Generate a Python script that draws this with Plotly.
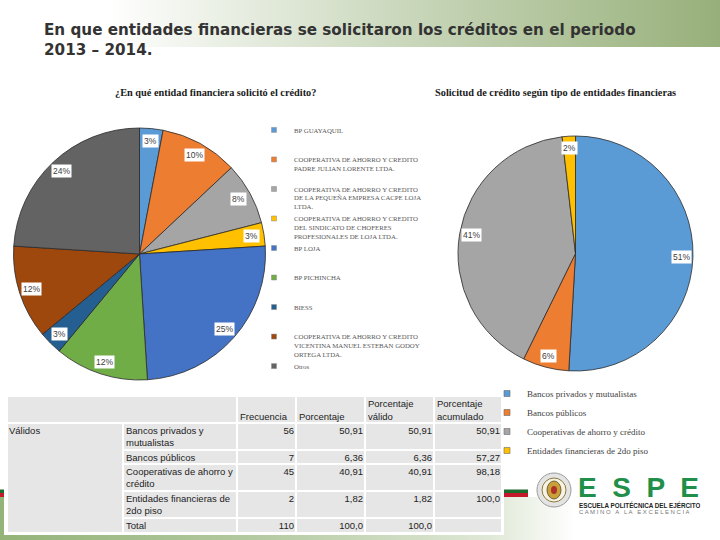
import base64
import math
import plotly.graph_objects as go

W, H = 720, 540

# ---------------- data ----------------
titulo = "En que entidades financieras se solicitaron los créditos en el periodo<br>2013 – 2014."

titulo_pie1 = "¿En qué entidad financiera solicitó el crédito?"
entidades = [
    "BP GUAYAQUIL",
    "COOPERATIVA DE AHORRO Y CREDITO<br>PADRE JULIAN LORENTE LTDA.",
    "COOPERATIVA DE AHORRO Y CREDITO<br>DE LA PEQUEÑA EMPRESA CACPE LOJA<br>LTDA.",
    "COOPERATIVA DE AHORRO Y CREDITO<br>DEL SINDICATO DE CHOFERES<br>PROFESIONALES DE LOJA LTDA.",
    "BP LOJA",
    "BP PICHINCHA",
    "BIESS",
    "COOPERATIVA DE AHORRO Y CREDITO<br>VICENTINA MANUEL ESTEBAN GODOY<br>ORTEGA LTDA.",
    "Otros",
]
porc_entidad = [3, 10, 8, 3, 25, 12, 3, 12, 24]
colores_entidad = ["#5b9bd5", "#ed7d31", "#a5a5a5", "#ffc000", "#4472c4",
                   "#70ad47", "#255e91", "#9e480e", "#636363"]

titulo_pie2 = "Solicitud de crédito según tipo de entidades financieras"
tipos = ["Bancos privados y mutualistas", "Bancos públicos",
         "Cooperativas de ahorro y crédito", "Entidades financieras de 2do piso"]
frecuencia = [56, 7, 45, 2]
colores_tipo = ["#5b9bd5", "#ed7d31", "#a5a5a5", "#ffc000"]

tabla_encabezado = ["Frecuencia", "Porcentaje", "Porcentaje<br>válido", "Porcentaje<br>acumulado"]
tabla_grupo = "Válidos"
tabla_filas = ["Bancos privados y<br>mutualistas", "Bancos públicos",
               "Cooperativas de ahorro y<br>crédito",
               "Entidades financieras de<br>2do piso", "Total"]
tabla_frecuencia = [56, 7, 45, 2, 110]
tabla_porcentaje = [50.91, 6.36, 40.91, 1.82, 100.0]
tabla_valido = [50.91, 6.36, 40.91, 1.82, 100.0]
tabla_acumulado = [50.91, 57.27, 98.18, 100.0, None]


def fmt_num(v):
    if v is None:
        return ""
    if isinstance(v, int):
        return str(v)
    s = f"{v:.1f}" if v >= 100 else f"{v:.2f}"
    return s.replace(".", ",")


# ---------------- layout geometry (px) ----------------
P1 = (139.5, 254.0, 126.0)
P2 = (575.5, 253.5, 117.5)
TAB_X0, TAB_X1, TAB_Y0, TAB_Y1 = 7, 502, 396, 533
col_edges = [0, 116, 230, 289, 358, 427, 495]
row_edges = [0, 27, 54, 68, 95, 122, 137]
GRAY = "#e6e6e6"
TFONT = dict(family="Liberation Sans", size=9.5, color="#222222")


def dom(cx, cy, r):
    return dict(x=[(cx - r) / W, (cx + r) / W], y=[1 - (cy + r) / H, 1 - (cy - r) / H])


fig = go.Figure()

fig.add_trace(go.Pie(
    values=porc_entidad, labels=[e.replace("<br>", " ") for e in entidades],
    marker=dict(colors=colores_entidad, line=dict(color="#2b2b2b", width=0.8)),
    sort=False, direction="clockwise", rotation=0, textinfo="none",
    showlegend=False, domain=dom(*P1), hoverinfo="label+percent"))

fig.add_trace(go.Pie(
    values=frecuencia, labels=tipos,
    marker=dict(colors=colores_tipo, line=dict(color="#2b2b2b", width=0.8)),
    sort=False, direction="clockwise", rotation=0, textinfo="none",
    showlegend=False, domain=dom(*P2), hoverinfo="label+percent"))

# legend entries (square markers)
for i, (n, c) in enumerate(zip(entidades, colores_entidad)):
    lines = n.count("<br>") + 1
    name = n + "<br>\u00a0" * (3 - lines)
    fig.add_trace(go.Scatter(
        x=[None], y=[None], mode="markers", name=name, legend="legend",
        legendgroup=f"e{i}", hoverinfo="skip",
        marker=dict(symbol="square", size=5, color=c, line=dict(color="#8a8a8a", width=0.5))))

for i, (n, c) in enumerate(zip(tipos, colores_tipo)):
    fig.add_trace(go.Scatter(
        x=[None], y=[None], mode="markers", name=n, legend="legend2",
        legendgroup=f"t{i}", hoverinfo="skip",
        marker=dict(symbol="square", size=6, color=c, line=dict(color="#6a6a6a", width=0.6))))

# ---------------- table (grid of cells on its own axes) ----------------
gscale = [[0, GRAY], [1, GRAY]]
hm = dict(colorscale=gscale, showscale=False, xgap=2, ygap=2, hoverinfo="skip",
          xaxis="x2", yaxis="y2")
# header row: first two columns merged
fig.add_trace(go.Heatmap(x=[col_edges[0]] + col_edges[2:], y=row_edges[:2],
                         z=[[0] * (len(col_edges) - 2)], **hm))
# "Válidos" merged column
fig.add_trace(go.Heatmap(x=col_edges[:2], y=[row_edges[1], row_edges[-1]], z=[[0]], **hm))
# body cells
fig.add_trace(go.Heatmap(x=col_edges[1:], y=row_edges[1:],
                         z=[[0] * (len(col_edges) - 2) for _ in tabla_filas], **hm))

tx = dict(mode="text", hoverinfo="skip", showlegend=False, xaxis="x2", yaxis="y2",
          textfont=TFONT, cliponaxis=False)
DY = 3.5
# header labels
fig.add_trace(go.Scatter(x=[e + 3 for e in col_edges[2:-1]],
                         y=[row_edges[1] - 1] * len(tabla_encabezado),
                         text=tabla_encabezado, textposition="top right", **tx))
# group label
fig.add_trace(go.Scatter(x=[col_edges[0] + 2], y=[row_edges[1] + DY], text=[tabla_grupo],
                         textposition="bottom right", **tx))
# row labels
fig.add_trace(go.Scatter(x=[col_edges[1] + 3] * len(tabla_filas), y=[r + DY for r in row_edges[1:-1]],
                         text=tabla_filas, textposition="bottom right", **tx))
# numeric columns
for k, col in enumerate([tabla_frecuencia, tabla_porcentaje, tabla_valido, tabla_acumulado]):
    fig.add_trace(go.Scatter(x=[col_edges[k + 3] - 2] * len(col), y=[r + DY for r in row_edges[1:-1]],
                             text=[fmt_num(v) for v in col], textposition="bottom left", **tx))

# ---------------- annotations ----------------
anns = []


def pie_labels(vals, cx, cy, r):
    tot = sum(vals)
    cum = 0
    for v in vals:
        mid = (cum + v / 2) / tot
        cum += v
        th = 2 * math.pi * mid
        x = cx + 0.9 * r * math.sin(th)
        y = cy - 0.9 * r * math.cos(th)
        anns.append(dict(x=x / W, y=1 - y / H, xref="paper", yref="paper",
                         xanchor="center", yanchor="middle",
                         text=f"{round(v / tot * 100)}%", showarrow=False,
                         bgcolor="white", borderpad=1,
                         font=dict(family="Liberation Sans", size=8.5, color="#404040")))


pie_labels(porc_entidad, *P1)
pie_labels(frecuencia, *P2)


def ann(x, y, text, font, xanchor="center", yanchor="middle", **kw):
    anns.append(dict(x=x / W, y=1 - y / H, xref="paper", yref="paper", xanchor=xanchor,
                     yanchor=yanchor, showarrow=False, text=text, font=font, **kw))


ann(42, 19, "<b>" + titulo.replace("<br>", "</b><br><b>") + "</b>",
    dict(family="DejaVu Sans", size=15.2, color="#333333"), xanchor="left", yanchor="top", align="left")
ann(215, 92, "<b>" + titulo_pie1 + "</b>", dict(family="Liberation Serif", size=10.3, color="#1a1a1a"))
ann(555.5, 92, "<b>" + titulo_pie2 + "</b>", dict(family="Liberation Serif", size=10.3, color="#1a1a1a"))

# logo texts
ann(576, 487, "<b>E  S  P  E</b>", dict(family="Liberation Sans", size=28, color="#1f8f4a"),
    xanchor="left", height=22)
ann(577, 504.5, "<b>ESCUELA POLITÉCNICA DEL EJÉRCITO</b>",
    dict(family="Liberation Sans", size=6.3, color="#222222"), xanchor="left", height=8)
ann(577, 511.5, "C A M I N O   A   L A   E X C E L E N C I A",
    dict(family="Liberation Sans", size=6, color="#777777"), xanchor="left", height=7)


# ---------------- background images (gradients) ----------------
def grad_svg(stops):
    st = "".join(f'<stop offset="{o}" stop-color="{c}"/>' for o, c in stops)
    svg = ('<svg xmlns="http://www.w3.org/2000/svg" width="720" height="100" preserveAspectRatio="none">'
           '<defs><linearGradient id="g" x1="0" y1="0" x2="1" y2="0">' + st +
           '</linearGradient></defs><rect width="720" height="100" fill="url(#g)"/></svg>')
    return "data:image/svg+xml;base64," + base64.b64encode(svg.encode()).decode()


images = [
    dict(source=grad_svg([(0, "#ffffff"), (0.15, "#ffffff"), (0.55, "#cbd8bd"), (1, "#97b07a")]),
         xref="paper", yref="paper", x=0, y=1, sizex=1, sizey=47 / H,
         sizing="stretch", layer="below", xanchor="left", yanchor="top"),
    dict(source=grad_svg([(0, "#93b378"), (0.35, "#b3c9a0"), (0.68, "#dfe8d6"), (0.8, "#ffffff"), (1, "#ffffff")]),
         xref="paper", yref="paper", x=0, y=1 - 497 / H, sizex=1, sizey=43 / H,
         sizing="stretch", layer="below", xanchor="left", yanchor="top"),
]


def rect(x0, y0, x1, y1, fill, **kw):
    return dict(type="rect", xref="paper", yref="paper", x0=x0 / W, x1=x1 / W, y0=1 - y1 / H, y1=1 - y0 / H,
                fillcolor=fill, line=dict(width=0), **kw)


def circ(x0, y0, x1, y1, fill, lc=None, lw=0):
    return dict(type="circle", xref="paper", yref="paper", x0=x0 / W, x1=x1 / W, y0=1 - y1 / H, y1=1 - y0 / H,
                fillcolor=fill, line=dict(color=lc or fill, width=lw))


shapes = [
    rect(0, 489.5, 528, 493, "#1d6b2f", layer="below"),
    rect(0, 493, 528, 497, "#c4182b", layer="below"),
    rect(TAB_X0 - 3, TAB_Y0 - 2, TAB_X1 + 2, TAB_Y1 + 2, "white", layer="below"),
    circ(537, 473, 571, 507, "#e4e4e4", "#9a9a9a", 1),
    circ(542, 478, 566, 502, "#f6f3e6", "#8c7a3c", 1),
    circ(547, 481, 561, 499, "#c9a13a", "#5a4a1a", 0.8),
    circ(551, 486, 557, 494, "#b0302a"),
]

fig.update_layout(
    width=W, height=H, margin=dict(l=0, r=0, t=0, b=0),
    paper_bgcolor="white", plot_bgcolor="rgba(0,0,0,0)",
    xaxis=dict(visible=False), yaxis=dict(visible=False),
    xaxis2=dict(visible=False, domain=[TAB_X0 / W, TAB_X1 / W], range=[0, col_edges[-1]],
                anchor="y2", fixedrange=True),
    yaxis2=dict(visible=False, domain=[1 - TAB_Y1 / H, 1 - TAB_Y0 / H], range=[row_edges[-1], 0],
                anchor="x2", fixedrange=True),
    annotations=anns, shapes=shapes, images=images,
    legend=dict(x=254 / W, y=1 - 119 / H, xanchor="left", yanchor="top",
                font=dict(family="Liberation Serif", size=6.8, color="#595959"),
                valign="top", tracegroupgap=0, traceorder="grouped",
                bgcolor="rgba(0,0,0,0)", itemwidth=30),
    legend2=dict(x=487 / W, y=1 - 379 / H, xanchor="left", yanchor="top",
                 font=dict(family="Liberation Serif", size=9, color="#404040"),
                 tracegroupgap=0, traceorder="grouped",
                 bgcolor="rgba(0,0,0,0)", itemwidth=30),
)

fig.write_html("out.html")
